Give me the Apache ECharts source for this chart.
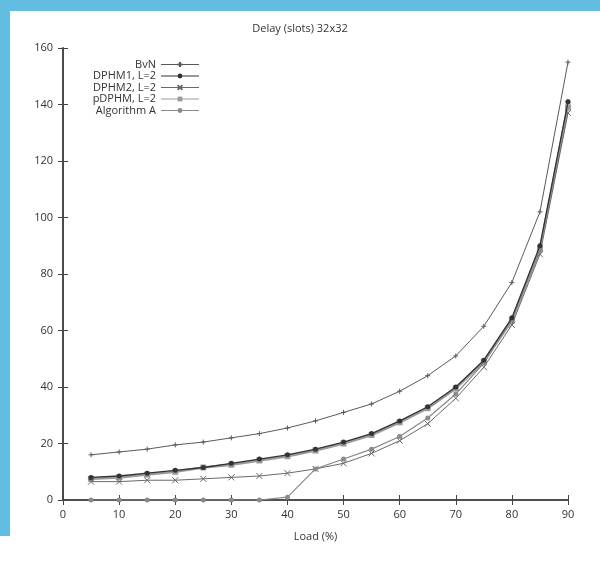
<!DOCTYPE html>
<html><head><meta charset="utf-8">
<script src="https://cdn.jsdelivr.net/npm/echarts@6/dist/echarts.min.js"></script>
<style>html,body{margin:0;padding:0;background:#fff;}#c{width:600px;height:561px;}</style>
</head><body><div id="c"></div>
<script>
const loads = [5,10,15,20,25,30,35,40,45,50,55,60,65,70,75,80,85,90];
const bvn   = [16,17,18,19.5,20.5,22,23.5,25.5,28,31,34,38.5,44,51,61.5,77,102,155];
const dphm1 = [8,8.5,9.5,10.5,11.5,13,14.5,16,18,20.5,23.5,28,33,40,49.5,64.5,90,141];
const dphm2 = [6.5,6.5,7,7,7.5,8,8.5,9.5,11,13,16.5,21,27,36,47,62,87,137];
const pdphm = [7.5,8,9,10,11.5,12.5,14,15.5,17.5,20,23,27.5,32.5,39.5,49,63.5,89,139];
const algA  = [0,0,0,0,0,0,0,1,11,14.5,18,22.5,29,37.5,48.5,64,88,141];
const names = ['BvN','DPHM1, L=2','DPHM2, L=2','pDPHM, L=2','Algorithm A'];
const xTicks = [0,10,20,30,40,50,60,70,80,90];
const yTicks = [0,20,40,60,80,100,120,140,160];

const pair = arr => loads.map((x,i)=>[x,arr[i]]);
const PLUS = 'path://M0,5L10,5M5,0L5,10';
const CROSS = 'path://M0,0L10,10M10,0L0,10';

const chart = echarts.init(document.getElementById('c'));
const axisCommon = {
  axisLine:{show:true,lineStyle:{color:'#444',width:1.6}},
  axisTick:{show:true,inside:true,length:5,lineStyle:{color:'#444'}},
  splitLine:{show:false}
};
chart.setOption({
  animation:false,
  backgroundColor:'#fff',
  graphic:[
    {type:'rect',shape:{x:0,y:0,width:600,height:11},style:{fill:'#62bde0'},z:100},
    {type:'rect',shape:{x:0,y:0,width:10,height:536},style:{fill:'#62bde0'},z:100}
  ],
  title:{text:'Delay (slots) 32x32',left:'center',top:23,padding:0,
    textStyle:{fontFamily:'Open Sans',fontSize:11,fontWeight:'normal',color:'#333'}},
  grid:{left:63,right:32,top:48,bottom:61},
  legend:{
    orient:'vertical',align:'right',left:67,top:54,itemGap:0.5,itemWidth:38,itemHeight:6,
    data:names,
    lineStyle:{width:1},
    formatter:n=>'{a|'+n+'}',
    textStyle:{fontFamily:'Open Sans',fontSize:11,color:'#333',
      rich:{a:{width:84,align:'right',lineHeight:12,fontFamily:'Open Sans',fontSize:11,color:'#333'}}}
  },
  xAxis:[
    Object.assign({type:'value',min:0,max:90,interval:10,position:'bottom',
      name:'Load (%)',nameLocation:'middle',nameGap:31,
      nameTextStyle:{fontFamily:'Open Sans',fontSize:11,color:'#333'},
      axisLabel:{margin:9,fontFamily:'Open Sans',fontSize:11,color:'#333',
        formatter:v=>xTicks.includes(v)?String(v):''}},axisCommon),
    Object.assign({type:'value',min:0,max:90,interval:10,position:'top',axisLabel:{show:false}},axisCommon)
  ],
  yAxis:[
    Object.assign({type:'value',min:0,max:160,interval:20,position:'left',
      axisLabel:{margin:10,fontFamily:'Open Sans',fontSize:11,color:'#333',
        formatter:v=>yTicks.includes(v)?String(v):''}},axisCommon),
    Object.assign({type:'value',min:0,max:160,interval:20,position:'right',axisLabel:{show:false}},axisCommon)
  ],
  series:[
    {name:names[0],type:'line',data:pair(bvn),symbol:PLUS,symbolSize:5,
      lineStyle:{color:'#5a5a5a',width:1},itemStyle:{color:'#5a5a5a',borderColor:'#5a5a5a',borderWidth:1},z:5},
    {name:names[3],type:'line',data:pair(pdphm),symbol:'rect',symbolSize:6,
      lineStyle:{color:'#9a9a9a',width:2.5},itemStyle:{color:'#9a9a9a'},z:3},
    {name:names[1],type:'line',data:pair(dphm1),symbol:'circle',symbolSize:5,
      lineStyle:{color:'#333',width:1.3},itemStyle:{color:'#333'},z:6},
    {name:names[2],type:'line',data:pair(dphm2),symbol:CROSS,symbolSize:6,
      lineStyle:{color:'#6a6a6a',width:1},itemStyle:{color:'#6a6a6a',borderColor:'#6a6a6a',borderWidth:1},z:4},
    {name:names[4],type:'line',data:pair(algA),symbol:'circle',symbolSize:5,
      lineStyle:{color:'#8a8a8a',width:1.2},itemStyle:{color:'#8a8a8a'},z:4}
  ]
});
</script></body></html>
